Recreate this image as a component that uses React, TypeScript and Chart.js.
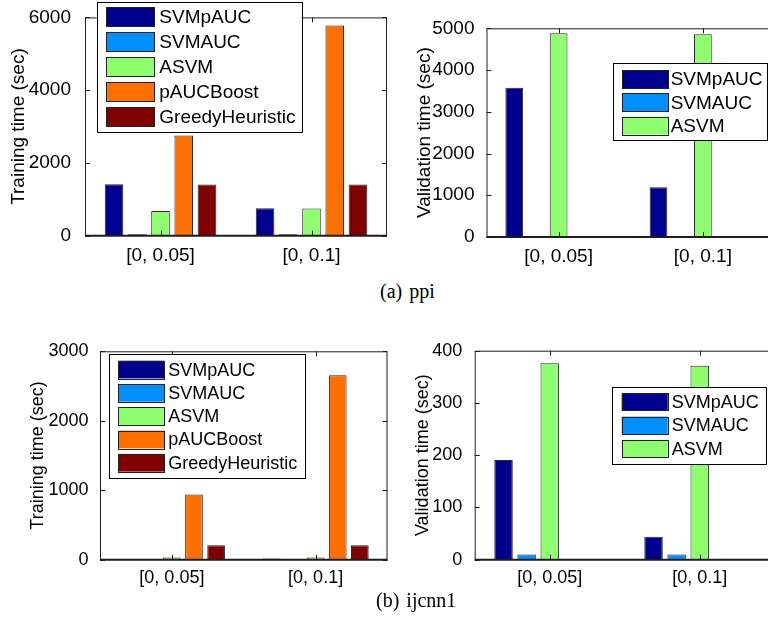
import React, { useEffect, useRef } from "react";
import { Chart, registerables } from "chart.js";

Chart.register(...registerables);

// ---------- data ----------
const categories = ["[0, 0.05]", "[0, 0.1]"];
const methods = ["SVMpAUC", "SVMAUC", "ASVM", "pAUCBoost", "GreedyHeuristic"];
const colors = ["#00008F", "#008FFF", "#8FFF70", "#FF7000", "#800000"];

// (a) ppi - training time (sec)
const ppiTrainSVMpAUC = [1415, 757];
const ppiTrainSVMAUC = [40, 40];
const ppiTrainASVM = [682, 745];
const ppiTrainPAUCBoost = [2755, 5780];
const ppiTrainGreedy = [1410, 1410];

// (a) ppi - validation time (sec)
const ppiValSVMpAUC = [3578, 1190];
const ppiValSVMAUC = [15, 15];
const ppiValASVM = [4880, 4855];
const ppiValPAUCBoost = [0, 0];
const ppiValGreedy = [0, 0];

// (b) ijcnn1 - training time (sec)
const ijTrainSVMpAUC = [5, 18];
const ijTrainSVMAUC = [5, 5];
const ijTrainASVM = [30, 30];
const ijTrainPAUCBoost = [940, 2655];
const ijTrainGreedy = [208, 208];

// (b) ijcnn1 - validation time (sec)
const ijValSVMpAUC = [191, 44];
const ijValSVMAUC = [10, 10];
const ijValASVM = [376, 371];
const ijValPAUCBoost = [0, 0];
const ijValGreedy = [0, 0];

// tick settings
const ppiTrainTicks = { max: 6000, step: 2000 };
const ppiValTicks = { max: 5000, step: 1000 };
const ijTrainTicks = { max: 3000, step: 1000 };
const ijValTicks = { max: 400, step: 100 };

const FONT = '"Liberation Sans", Arial, Helvetica, sans-serif';

// ---------- plugins ----------
const boxPlugin = {
  id: "mbox",
  afterDatasetsDraw(chart: any) {
    const { ctx, chartArea: a, scales } = chart;
    ctx.save();
    ctx.strokeStyle = "#1e1e1e";
    ctx.lineWidth = 1;
    ctx.beginPath();
    ctx.moveTo(a.left + 0.5, a.bottom);
    ctx.lineTo(a.left + 0.5, a.top + 0.5);
    ctx.lineTo(a.right - 0.5, a.top + 0.5);
    ctx.lineTo(a.right - 0.5, a.bottom);
    ctx.stroke();
    const ys = scales.y;
    ys.ticks.forEach((_t: any, i: number) => {
      const p = Math.round(ys.getPixelForTick(i)) + 0.5;
      ctx.beginPath();
      ctx.moveTo(a.left, p);
      ctx.lineTo(a.left + 5, p);
      ctx.moveTo(a.right, p);
      ctx.lineTo(a.right - 5, p);
      ctx.stroke();
    });
    const xs = scales.x;
    xs.ticks.forEach((_t: any, i: number) => {
      const p = Math.round(xs.getPixelForTick(i)) + 0.5;
      ctx.beginPath();
      ctx.moveTo(p, a.bottom);
      ctx.lineTo(p, a.bottom - 5);
      ctx.moveTo(p, a.top);
      ctx.lineTo(p, a.top + 5);
      ctx.stroke();
    });
    ctx.lineWidth = 2;
    ctx.beginPath();
    ctx.moveTo(a.left, a.bottom);
    ctx.lineTo(a.right, a.bottom);
    ctx.stroke();
    ctx.restore();
  },
};

const legendPlugin = {
  id: "mlegend",
  afterDraw(chart: any, _args: any, o: any) {
    if (!o || !o.count) return;
    const ctx = chart.ctx;
    const items = chart.data.datasets.slice(0, o.count);
    ctx.save();
    ctx.fillStyle = "#fff";
    ctx.fillRect(o.x, o.y, o.w, o.h);
    ctx.strokeStyle = "#000";
    ctx.lineWidth = 1;
    ctx.strokeRect(Math.round(o.x) + 0.5, Math.round(o.y) + 0.5, Math.round(o.w), Math.round(o.h));
    items.forEach((ds: any, i: number) => {
      const top = o.y + o.first + i * o.pitch;
      ctx.fillStyle = ds.backgroundColor;
      ctx.fillRect(o.x + o.sx, top, o.sw, o.sh);
      ctx.strokeStyle = "#222";
      ctx.strokeRect(Math.round(o.x + o.sx) + 0.5, Math.round(top) + 0.5, Math.round(o.sw), Math.round(o.sh));
      ctx.fillStyle = "#000";
      ctx.font = `${o.fs}px ${FONT}`;
      ctx.textBaseline = "middle";
      ctx.textAlign = "left";
      ctx.fillText(ds.label, o.x + o.tx, top + o.sh / 2 + 1);
    });
    ctx.restore();
  },
};

type PanelSpec = {
  left: number;
  top: number;
  w: number;
  h: number;
  yw: number;
  xh: number;
  padTop: number;
  padRight: number;
  fs: number;
  yPad: number;
  xPad: number;
  titlePad: number;
  title: string;
  ticks: { max: number; step: number };
  series: number[][];
  legend: any;
};

function Panel({ spec }: { spec: PanelSpec }) {
  const ref = useRef<HTMLCanvasElement>(null);
  useEffect(() => {
    const font = { family: FONT, size: spec.fs };
    const chart = new Chart(ref.current as HTMLCanvasElement, {
      type: "bar",
      data: {
        labels: categories,
        datasets: methods.map((m, i) => ({
          label: m,
          data: spec.series[i],
          backgroundColor: colors[i],
          borderColor: "#2a2a2a",
          borderWidth: 1,
          categoryPercentage: 5 / 6.5,
          barPercentage: 0.8,
        })),
      },
      options: {
        responsive: false,
        animation: false,
        devicePixelRatio: 1,
        layout: { padding: { top: spec.padTop, right: spec.padRight, left: 0, bottom: 0 } },
        plugins: {
          legend: { display: false },
          tooltip: { enabled: false },
          mlegend: spec.legend,
        } as any,
        scales: {
          x: {
            grid: { display: false },
            border: { display: false },
            ticks: { color: "#000", font, padding: spec.xPad, maxRotation: 0 },
            afterFit: (s: any) => {
              s.height = spec.xh;
            },
          },
          y: {
            min: 0,
            max: spec.ticks.max,
            grid: { display: false },
            border: { display: false },
            ticks: {
              color: "#000",
              font,
              padding: spec.yPad,
              stepSize: spec.ticks.step,
              callback: (v: any) => String(v),
            },
            title: {
              display: true,
              text: spec.title,
              color: "#000",
              font,
              padding: { top: spec.titlePad, bottom: 0 },
            },
            afterFit: (s: any) => {
              s.width = spec.yw;
            },
          },
        },
      } as any,
      plugins: [boxPlugin, legendPlugin],
    });
    return () => chart.destroy();
  }, []);
  return (
    <canvas
      ref={ref}
      width={spec.w}
      height={spec.h}
      style={{ position: "absolute", left: spec.left, top: spec.top, width: spec.w, height: spec.h }}
    />
  );
}

const panels: PanelSpec[] = [
  {
    left: 0, top: 0, w: 400, h: 275, yw: 85, xh: 39.3, padTop: 15.7, padRight: 13,
    fs: 19, yPad: 6, xPad: 1, titlePad: 7.6, title: "Training time (sec)",
    ticks: ppiTrainTicks,
    series: [ppiTrainSVMpAUC, ppiTrainSVMAUC, ppiTrainASVM, ppiTrainPAUCBoost, ppiTrainGreedy],
    legend: { count: 5, x: 96.7, y: 1.7, w: 205, h: 130, sx: 9.3, sw: 48.3, sh: 18.7, first: 5.6, pitch: 25, tx: 62.6, fs: 19 },
  },
  {
    left: 400, top: 0, w: 380, h: 275, yw: 86.5, xh: 38, padTop: 28.3, padRight: 5,
    fs: 19, yPad: 4, xPad: 0, titlePad: 12.9, title: "Validation time (sec)",
    ticks: ppiValTicks,
    series: [ppiValSVMpAUC, ppiValSVMAUC, ppiValASVM, ppiValPAUCBoost, ppiValGreedy],
    legend: { count: 3, x: 213.3, y: 63.3, w: 153.7, h: 76.7, sx: 9, sw: 46, sh: 18, first: 6.7, pitch: 23.3, tx: 57.4, fs: 19 },
  },
  {
    left: 0, top: 310, w: 400, h: 290, yw: 100, xh: 40.3, padTop: 41.3, padRight: 12.5,
    fs: 18, yPad: 3.5, xPad: 0, titlePad: 27.2, title: "Training time (sec)",
    ticks: ijTrainTicks,
    series: [ijTrainSVMpAUC, ijTrainSVMAUC, ijTrainASVM, ijTrainPAUCBoost, ijTrainGreedy],
    legend: { count: 5, x: 109.3, y: 44, w: 195.7, h: 124.3, sx: 9, sw: 46, sh: 17.7, first: 6.7, pitch: 23.3, tx: 59, fs: 18 },
  },
  {
    left: 400, top: 310, w: 380, h: 290, yw: 74.7, xh: 40.3, padTop: 40.7, padRight: 5.3,
    fs: 18, yPad: 4.5, xPad: 0, titlePad: 11.9, title: "Validation time (sec)",
    ticks: ijValTicks,
    series: [ijValSVMpAUC, ijValSVMAUC, ijValASVM, ijValPAUCBoost, ijValGreedy],
    legend: { count: 3, x: 212.3, y: 77.3, w: 154.4, h: 76.7, sx: 9.4, sw: 46, sh: 17.4, first: 6, pitch: 23.3, tx: 59.4, fs: 18 },
  },
];

const captionStyle: React.CSSProperties = {
  position: "absolute",
  fontFamily: '"Liberation Serif", "Times New Roman", serif',
  fontSize: 20,
  lineHeight: "20px",
  whiteSpace: "pre",
  color: "#000",
  wordSpacing: 2,
};

export default function App() {
  return (
    <div
      style={{
        position: "absolute",
        left: 0,
        top: 0,
        width: 768,
        height: 634,
        overflow: "hidden",
        background: "#fff",
      }}
    >
      {panels.map((p, i) => (
        <Panel key={i} spec={p} />
      ))}
      <div style={{ ...captionStyle, left: 380, top: 281 }}>(a) ppi</div>
      <div style={{ ...captionStyle, left: 376, top: 590 }}>(b) ijcnn1</div>
    </div>
  );
}
